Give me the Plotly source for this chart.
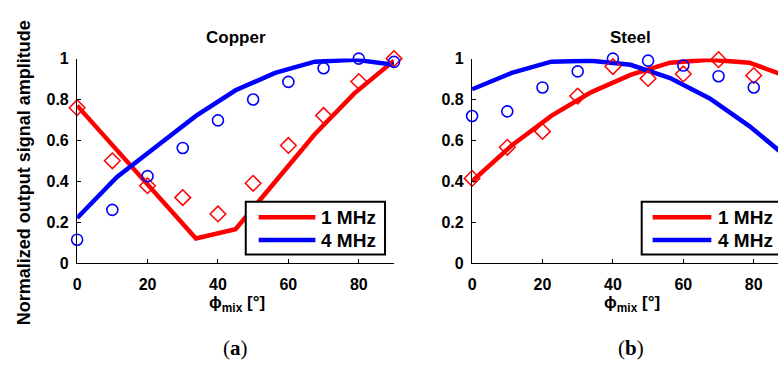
import plotly.graph_objects as go

# Mixing angle (degrees) for measurements and for the model curves
phi_meas = [0, 10, 20, 30, 40, 50, 60, 70, 80, 90]
phi_model = [0, 11.25, 22.5, 33.75, 45, 56.25, 67.5, 78.75, 90]

# Copper: measured (markers) and modelled (lines) normalised amplitudes
cu_1mhz_meas = [0.76, 0.50, 0.378, 0.32, 0.24, 0.39, 0.575, 0.722, 0.888, 1.0]
cu_4mhz_meas = [0.114, 0.26, 0.425, 0.563, 0.698, 0.80, 0.886, 0.953, 1.0, 0.984]
cu_1mhz_model = [0.77, 0.553, 0.337, 0.12, 0.165, 0.40, 0.63, 0.83, 0.99]
cu_4mhz_model = [0.22, 0.42, 0.57, 0.72, 0.845, 0.93, 0.985, 0.995, 0.97]

# Steel: measured (markers) and modelled (lines) normalised amplitudes
st_phi_meas = [0, 10, 20, 30, 40, 50, 60, 70, 80]
st_1mhz_meas = [0.414, 0.566, 0.644, 0.817, 0.961, 0.903, 0.925, 0.995, 0.917]
st_4mhz_meas = [0.719, 0.742, 0.859, 0.9375, 1.0, 0.99, 0.966, 0.914, 0.859]
st_1mhz_model = [0.40, 0.575, 0.72, 0.835, 0.92, 0.98, 0.995, 0.98, 0.91]
st_4mhz_model = [0.85, 0.93, 0.985, 0.99, 0.97, 0.905, 0.805, 0.67, 0.51]

panel_titles = ["Copper", "Steel"]
panel_tags = ["(<b>a</b>)", "(<b>b</b>)"]
series_names = ["1 MHz", "4 MHz"]

RED = "#ff0000"
BLUE = "#0000ff"
W, H = 778, 378
FONT = "Liberation Sans, Arial, Helvetica, sans-serif"


def px(x):
    return x / W


def py(y):
    return 1 - y / H


fig = go.Figure()

panels = [
    ("x", "y", phi_meas, cu_1mhz_meas, cu_4mhz_meas, cu_1mhz_model, cu_4mhz_model),
    ("x2", "y2", st_phi_meas, st_1mhz_meas, st_4mhz_meas, st_1mhz_model, st_4mhz_model),
]

for xa, ya, xm, m1, m4, l1, l4 in panels:
    for model, color in ((l1, RED), (l4, BLUE)):
        fig.add_trace(go.Scatter(
            x=phi_model, y=model, mode="lines", xaxis=xa, yaxis=ya,
            line=dict(color=color, width=4.5), showlegend=False,
        ))
    fig.add_trace(go.Scatter(
        x=xm, y=m1, mode="markers", xaxis=xa, yaxis=ya, cliponaxis=False,
        marker=dict(symbol="diamond-open", size=12, color=RED,
                    line=dict(color=RED, width=1.5)),
        showlegend=False,
    ))
    fig.add_trace(go.Scatter(
        x=xm, y=m4, mode="markers", xaxis=xa, yaxis=ya, cliponaxis=False,
        marker=dict(symbol="circle-open", size=11, color=BLUE,
                    line=dict(color=BLUE, width=1.6)),
        showlegend=False,
    ))

axis_common = dict(
    showline=True, linecolor="black", linewidth=1.3,
    ticks="inside", ticklen=4, tickwidth=1, tickcolor="black",
    showgrid=False, zeroline=False, mirror=False,
    tickfont=dict(family=FONT, size=16, color="black", weight="bold"),
)

# pixel geometry of the two panels
left_x0, left_x1 = 73.5, 392
right_x0 = 470.5
unit = (left_x1 - left_x0) / 90
right_max = (W - right_x0) / unit
y_top, y_bot = 53, 267

fig.update_layout(
    width=W, height=H,
    margin=dict(l=0, r=0, t=0, b=0),
    paper_bgcolor="white", plot_bgcolor="white",
    showlegend=False,
    font=dict(family=FONT, color="black"),
    xaxis=dict(domain=[px(left_x0), px(left_x1)], range=[0, 90],
               tickvals=[0, 20, 40, 60, 80], anchor="y",
               ticklabelstandoff=7, **axis_common),
    yaxis=dict(domain=[py(y_bot), py(y_top)], range=[0, 1],
               dtick=0.2, anchor="x", ticklabelstandoff=4, **axis_common),
    xaxis2=dict(domain=[px(right_x0), 1], range=[0, right_max],
                tickvals=[0, 20, 40, 60, 80], anchor="y2",
                ticklabelstandoff=7, **axis_common),
    yaxis2=dict(domain=[py(y_bot), py(y_top)], range=[0, 1],
                dtick=0.2, anchor="x2", ticklabelstandoff=4, **axis_common),
)

annotations = []
shapes = []
centers = [(left_x0 + left_x1) / 2, (right_x0 + right_x0 + 90 * unit) / 2]
for cx, title, tag in zip(centers, panel_titles, panel_tags):
    annotations.append(dict(
        x=px(cx), y=py(31), xref="paper", yref="paper", text=title,
        showarrow=False, xanchor="center", yanchor="middle",
        font=dict(family=FONT, size=17, weight="bold"),
    ))
    annotations.append(dict(
        x=px(cx + 1), y=py(310), xref="paper", yref="paper",
        text="\u03d5<sub>mix</sub> [\u00b0]",
        showarrow=False, xanchor="center", yanchor="middle",
        font=dict(family=FONT, size=17, weight="bold"),
    ))
    annotations.append(dict(
        x=px(cx), y=py(356), xref="paper", yref="paper", text=tag,
        showarrow=False, xanchor="center", yanchor="middle",
        font=dict(family="Liberation Serif, DejaVu Serif, serif", size=21),
    ))

annotations.append(dict(
    x=px(20), y=py(172), xref="paper", yref="paper",
    text="Normalized output signal amplitude", textangle=-90,
    showarrow=False, xanchor="center", yanchor="middle",
    font=dict(family=FONT, size=18, weight="bold"),
))

# legend boxes
legend_boxes = [(243, 383, 256, 313, 317), (641, 810, 652, 711, 716)]
for bx0, bx1, lx0, lx1, tx in legend_boxes:
    shapes.append(dict(
        type="rect", xref="paper", yref="paper",
        x0=px(bx0), x1=px(bx1), y0=py(258), y1=py(203),
        line=dict(color="black", width=2), fillcolor="white", layer="above",
    ))
    for name, color, ly in zip(series_names, (RED, BLUE), (219, 243)):
        shapes.append(dict(
            type="line", xref="paper", yref="paper",
            x0=px(lx0), x1=px(lx1), y0=py(ly), y1=py(ly),
            line=dict(color=color, width=4.5), layer="above",
        ))
        annotations.append(dict(
            x=px(tx), y=py(ly), xref="paper", yref="paper", text=name,
            showarrow=False, xanchor="left", yanchor="middle",
            font=dict(family=FONT, size=19, weight="bold"),
        ))

fig.update_layout(annotations=annotations, shapes=shapes)

fig.write_html("out.html")
